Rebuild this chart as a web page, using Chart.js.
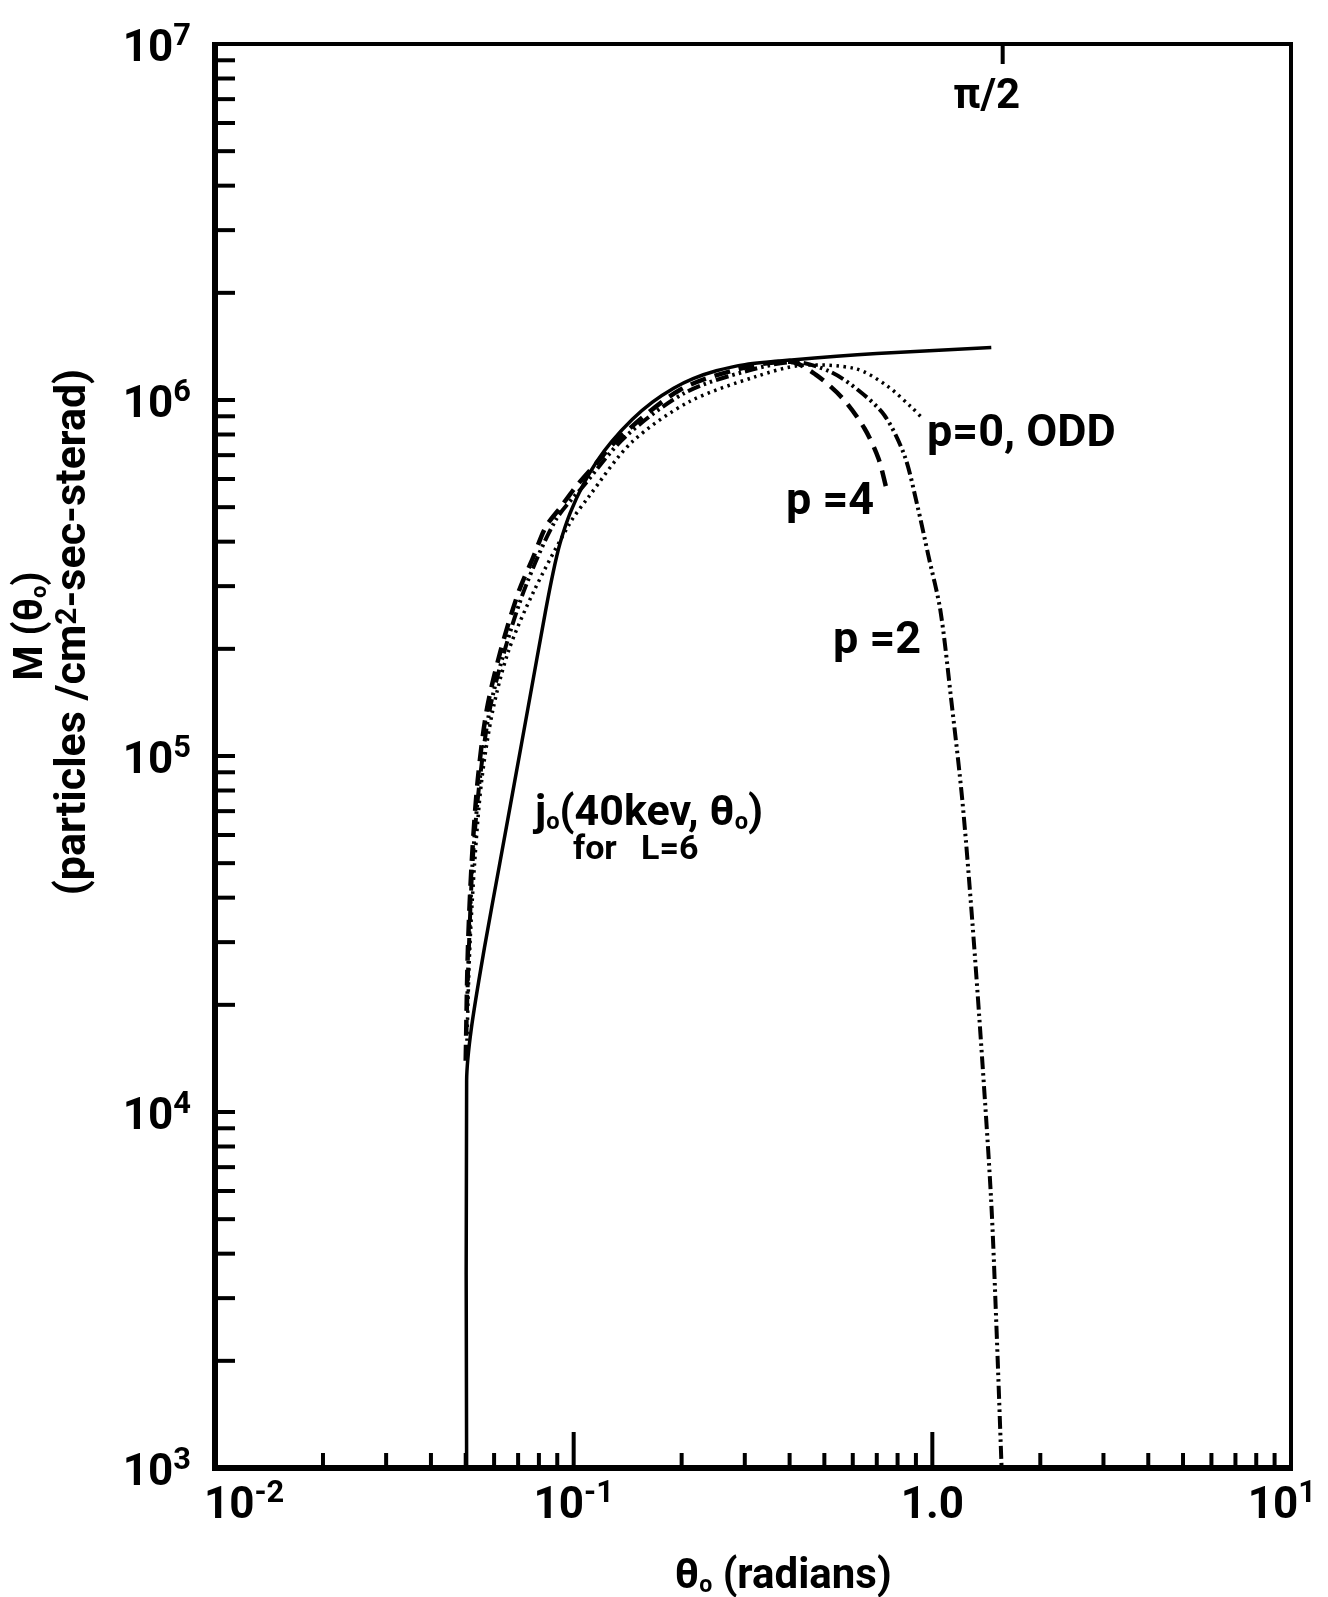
<!DOCTYPE html>
<html>
<head>
<meta charset="utf-8">
<script src="https://cdn.jsdelivr.net/npm/chart.js@4.4.1/dist/chart.umd.min.js"></script>
<style>
  html, body { margin: 0; padding: 0; background: #fff; }
  #wrap { width: 1328px; height: 1597px; }
</style>
</head>
<body>
<div id="wrap"><canvas id="fluxChart" width="1328" height="1597"></canvas></div>
<script>
// j0(40 keV, theta0) for L=6 -- solid
var thetaJ0 = [0.0503, 0.0503, 0.0518, 0.0564, 0.0622, 0.0686, 0.0745, 0.0834, 0.0876, 0.0917, 0.0978, 0.1065, 0.1159, 0.1276, 0.1458, 0.1658, 0.19, 0.2153, 0.25, 0.30, 0.405, 0.70, 1.46];
var fluxJ0  = [1000, 12250, 17060, 28950, 49800, 85700, 135500, 254000, 327000, 397000, 482000, 581000, 671000, 764000, 883000, 986000, 1079000, 1148000, 1208000, 1257000, 1296000, 1350000, 1404000];

// p = 0, ODD -- dotted
var thetaP0 = [0.0504, 0.0513, 0.0530, 0.0554, 0.0595, 0.0659, 0.0774, 0.0975, 0.1094, 0.145, 0.2104, 0.3234, 0.4288, 0.610, 0.744, 0.874, 0.938];
var fluxP0  = [15850, 28400, 50800, 85300, 134300, 198000, 290000, 450000, 530000, 760000, 990000, 1165000, 1250000, 1225000, 1100000, 955000, 889000];

// p = 4 -- long dashes
var thetaP4 = [0.0500, 0.0507, 0.0520, 0.0540, 0.0572, 0.0626, 0.0703, 0.0770, 0.0836, 0.0920, 0.1013, 0.1150, 0.1352, 0.1987, 0.2918, 0.4023, 0.472, 0.5614, 0.6465, 0.7073, 0.7444];
var fluxP4  = [13930, 28400, 50800, 85300, 134300, 198000, 290000, 360000, 440000, 500000, 570000, 660000, 790000, 1070000, 1225000, 1280000, 1180000, 1012000, 833000, 686000, 565000];

// p = 2 -- dash dot dot
var thetaP2 = [0.0504, 0.0510, 0.0523, 0.0547, 0.0583, 0.0642, 0.0735, 0.0891, 0.1059, 0.1396, 0.2051, 0.3073, 0.4153, 0.520, 0.622, 0.735, 0.836, 0.908, 0.9747, 1.053, 1.1295, 1.2124, 1.292, 1.378, 1.459, 1.507, 1.56];
var fluxP2  = [19260, 28400, 50800, 85300, 134300, 198000, 300000, 460000, 570000, 790000, 1050000, 1210000, 1278000, 1200000, 1065000, 906000, 699000, 506000, 366000, 256500, 143200, 75000, 34500, 13930, 5630, 2588, 1000];

// axis decades and their labels [base, exponent]
var xDecades = [0.01, 0.1, 1, 10];
var xDecadeLabels = [['10', '-2'], ['10', '-1'], ['1.0', ''], ['10', '1']];
var yDecades = [1e3, 1e4, 1e5, 1e6, 1e7];
var yDecadeLabels = [['10', '3'], ['10', '4'], ['10', '5'], ['10', '6'], ['10', '7']];

var HALF_PI = Math.PI / 2;
var FONT = 'Roboto, "DejaVu Sans", sans-serif';

function pts(xs, ys) {
  return xs.map(function (x, i) { return { x: x, y: ys[i] }; });
}

// draws text pieces [text, kind, raise]; kind '' normal, 'sup' raised, 'sub' lowered
function richText(ctx, parts, x, y, size, align, measureOnly) {
  function sz(k) { return k === 'sup' ? size * 0.7 : (k === 'sub' ? size * 0.55 : size); }
  var total = 0;
  parts.forEach(function (p) {
    ctx.font = 'bold ' + sz(p[1]) + 'px ' + FONT;
    total += ctx.measureText(p[0]).width;
  });
  if (measureOnly) return total;
  var cx = align === 'center' ? x - total / 2 : (align === 'right' ? x - total : x);
  ctx.textAlign = 'left';
  parts.forEach(function (p) {
    ctx.font = 'bold ' + sz(p[1]) + 'px ' + FONT;
    var dy = p[1] === 'sup' ? -size * (p[2] || 0.36) : (p[1] === 'sub' ? size * 0.1 : 0);
    ctx.fillText(p[0], cx, y + dy);
    cx += ctx.measureText(p[0]).width;
  });
  return total;
}

var paperAxes = {
  id: 'paperAxes',
  afterDatasetsDraw: function (chart) {
    var ctx = chart.ctx, a = chart.chartArea;
    var xs = chart.scales.x, ys = chart.scales.y;
    ctx.save();
    ctx.strokeStyle = '#000';
    ctx.fillStyle = '#000';
    ctx.lineCap = 'butt';

    function line(x1, y1, x2, y2, w) {
      ctx.lineWidth = w;
      ctx.beginPath();
      ctx.moveTo(x1, y1);
      ctx.lineTo(x2, y2);
      ctx.stroke();
    }

    // frame
    line(a.left, a.top - 2, a.left, a.bottom + 3, 6);
    line(a.left - 3, a.bottom, a.right + 2, a.bottom, 6);
    line(a.left - 3, a.top, a.right + 2, a.top, 4);
    line(a.right, a.top - 2, a.right, a.bottom + 3, 4);

    // left axis ticks, pointing in
    for (var k = 3; k < 7; k++) {
      for (var m = 1; m < 10; m++) {
        if (k === 3 && m === 1) continue;
        var py = ys.getPixelForValue(m * Math.pow(10, k));
        line(a.left, py, a.left + 20, py, 4);
      }
    }
    // bottom axis ticks
    for (var j = -2; j < 1; j++) {
      for (var n = 1; n < 10; n++) {
        if (j === -2 && n === 1) continue;
        var px = xs.getPixelForValue(n * Math.pow(10, j));
        line(px, a.bottom, px, a.bottom - (n === 1 ? 36 : 15), 4);
      }
    }

    // tick labels
    ctx.textBaseline = 'alphabetic';
    yDecades.forEach(function (v, i) {
      var py = ys.getPixelForValue(v);
      var lab = yDecadeLabels[i];
      richText(ctx, [[lab[0], ''], [lab[1], 'sup']], a.left - 24, py + 17, 44, 'right');
    });
    xDecades.forEach(function (v, i) {
      var px = xs.getPixelForValue(v);
      var parts = [[xDecadeLabels[i][0], ''], [xDecadeLabels[i][1], 'sup']];
      var w = richText(ctx, parts, 0, 0, 44, 'left', true);
      var left = Math.max(px - w / 2, a.left - 11);
      left = Math.min(left, chart.width - w - 12);
      richText(ctx, parts, left, a.bottom + 50, 44, 'left');
    });

    // pi/2 mark on the top edge
    var hp = xs.getPixelForValue(HALF_PI);
    line(hp, a.top, hp, a.top + 20, 4);
    richText(ctx, [['\u03c0/2', '']], hp - 16, a.top + 64, 42, 'center');

    // curve annotations
    richText(ctx, [['p=0, ODD', '']], 927, 446, 45, 'left');
    richText(ctx, [['p =4', '']], 786, 514, 45, 'left');
    richText(ctx, [['p =2', '']], 833, 653, 45, 'left');
    richText(ctx, [['j', ''], ['o', 'sub'], ['(40kev, \u03b8', ''], ['o', 'sub'], [')', '']], 535, 825, 43, 'left');
    richText(ctx, [['for', '']], 573, 859, 34, 'left');
    richText(ctx, [['L=6', '']], 641, 859, 34, 'left');

    // axis titles
    richText(ctx, [['\u03b8', ''], ['o', 'sub'], [' (radians)', '']], 783, 1588, 42, 'center');
    ctx.save();
    ctx.translate(42, 626);
    ctx.rotate(-Math.PI / 2);
    richText(ctx, [['M (\u03b8', ''], ['o', 'sub'], [')', '']], 0, 0, 40, 'center');
    ctx.restore();
    ctx.save();
    ctx.translate(85, 632);
    ctx.rotate(-Math.PI / 2);
    richText(ctx, [['(particles /cm', ''], ['2', 'sup', 0.22], ['-sec-sterad)', '']], 0, 0, 43, 'center');
    ctx.restore();

    ctx.restore();
  }
};

var ctx = document.getElementById('fluxChart');
var fluxChart = new Chart(ctx, {
  type: 'line',
  data: {
    datasets: [
      {
        label: 'j0(40kev, theta0) for L=6',
        data: pts(thetaJ0, fluxJ0),
        borderColor: '#000',
        borderWidth: 3.5,
        pointRadius: 0,
        tension: 0.3
      },
      {
        label: 'p=0, ODD',
        data: pts(thetaP0, fluxP0),
        borderColor: '#000',
        borderWidth: 3.5,
        borderDash: [2.5, 4.5],
        pointRadius: 0,
        tension: 0.3
      },
      {
        label: 'p=4',
        data: pts(thetaP4, fluxP4),
        borderColor: '#000',
        borderWidth: 4.5,
        borderDash: [16, 9],
        pointRadius: 0,
        tension: 0.3
      },
      {
        label: 'p=2',
        data: pts(thetaP2, fluxP2),
        borderColor: '#000',
        borderWidth: 4,
        borderDash: [13, 4, 2.5, 4, 2.5, 4],
        pointRadius: 0,
        tension: 0.3
      }
    ]
  },
  options: {
    responsive: false,
    animation: false,
    devicePixelRatio: 1,
    layout: { padding: { top: 44, right: 37, left: 0, bottom: 0 } },
    plugins: {
      legend: { display: false },
      tooltip: { enabled: false }
    },
    scales: {
      x: {
        type: 'logarithmic',
        min: 0.01,
        max: 10,
        ticks: { display: false },
        grid: { display: false },
        border: { display: false },
        afterFit: function (scale) { scale.height = 129; }
      },
      y: {
        type: 'logarithmic',
        min: 1e3,
        max: 1e7,
        ticks: { display: false },
        grid: { display: false },
        border: { display: false },
        afterFit: function (scale) { scale.width = 215; }
      }
    }
  },
  plugins: [paperAxes]
});
</script>
</body>
</html>
